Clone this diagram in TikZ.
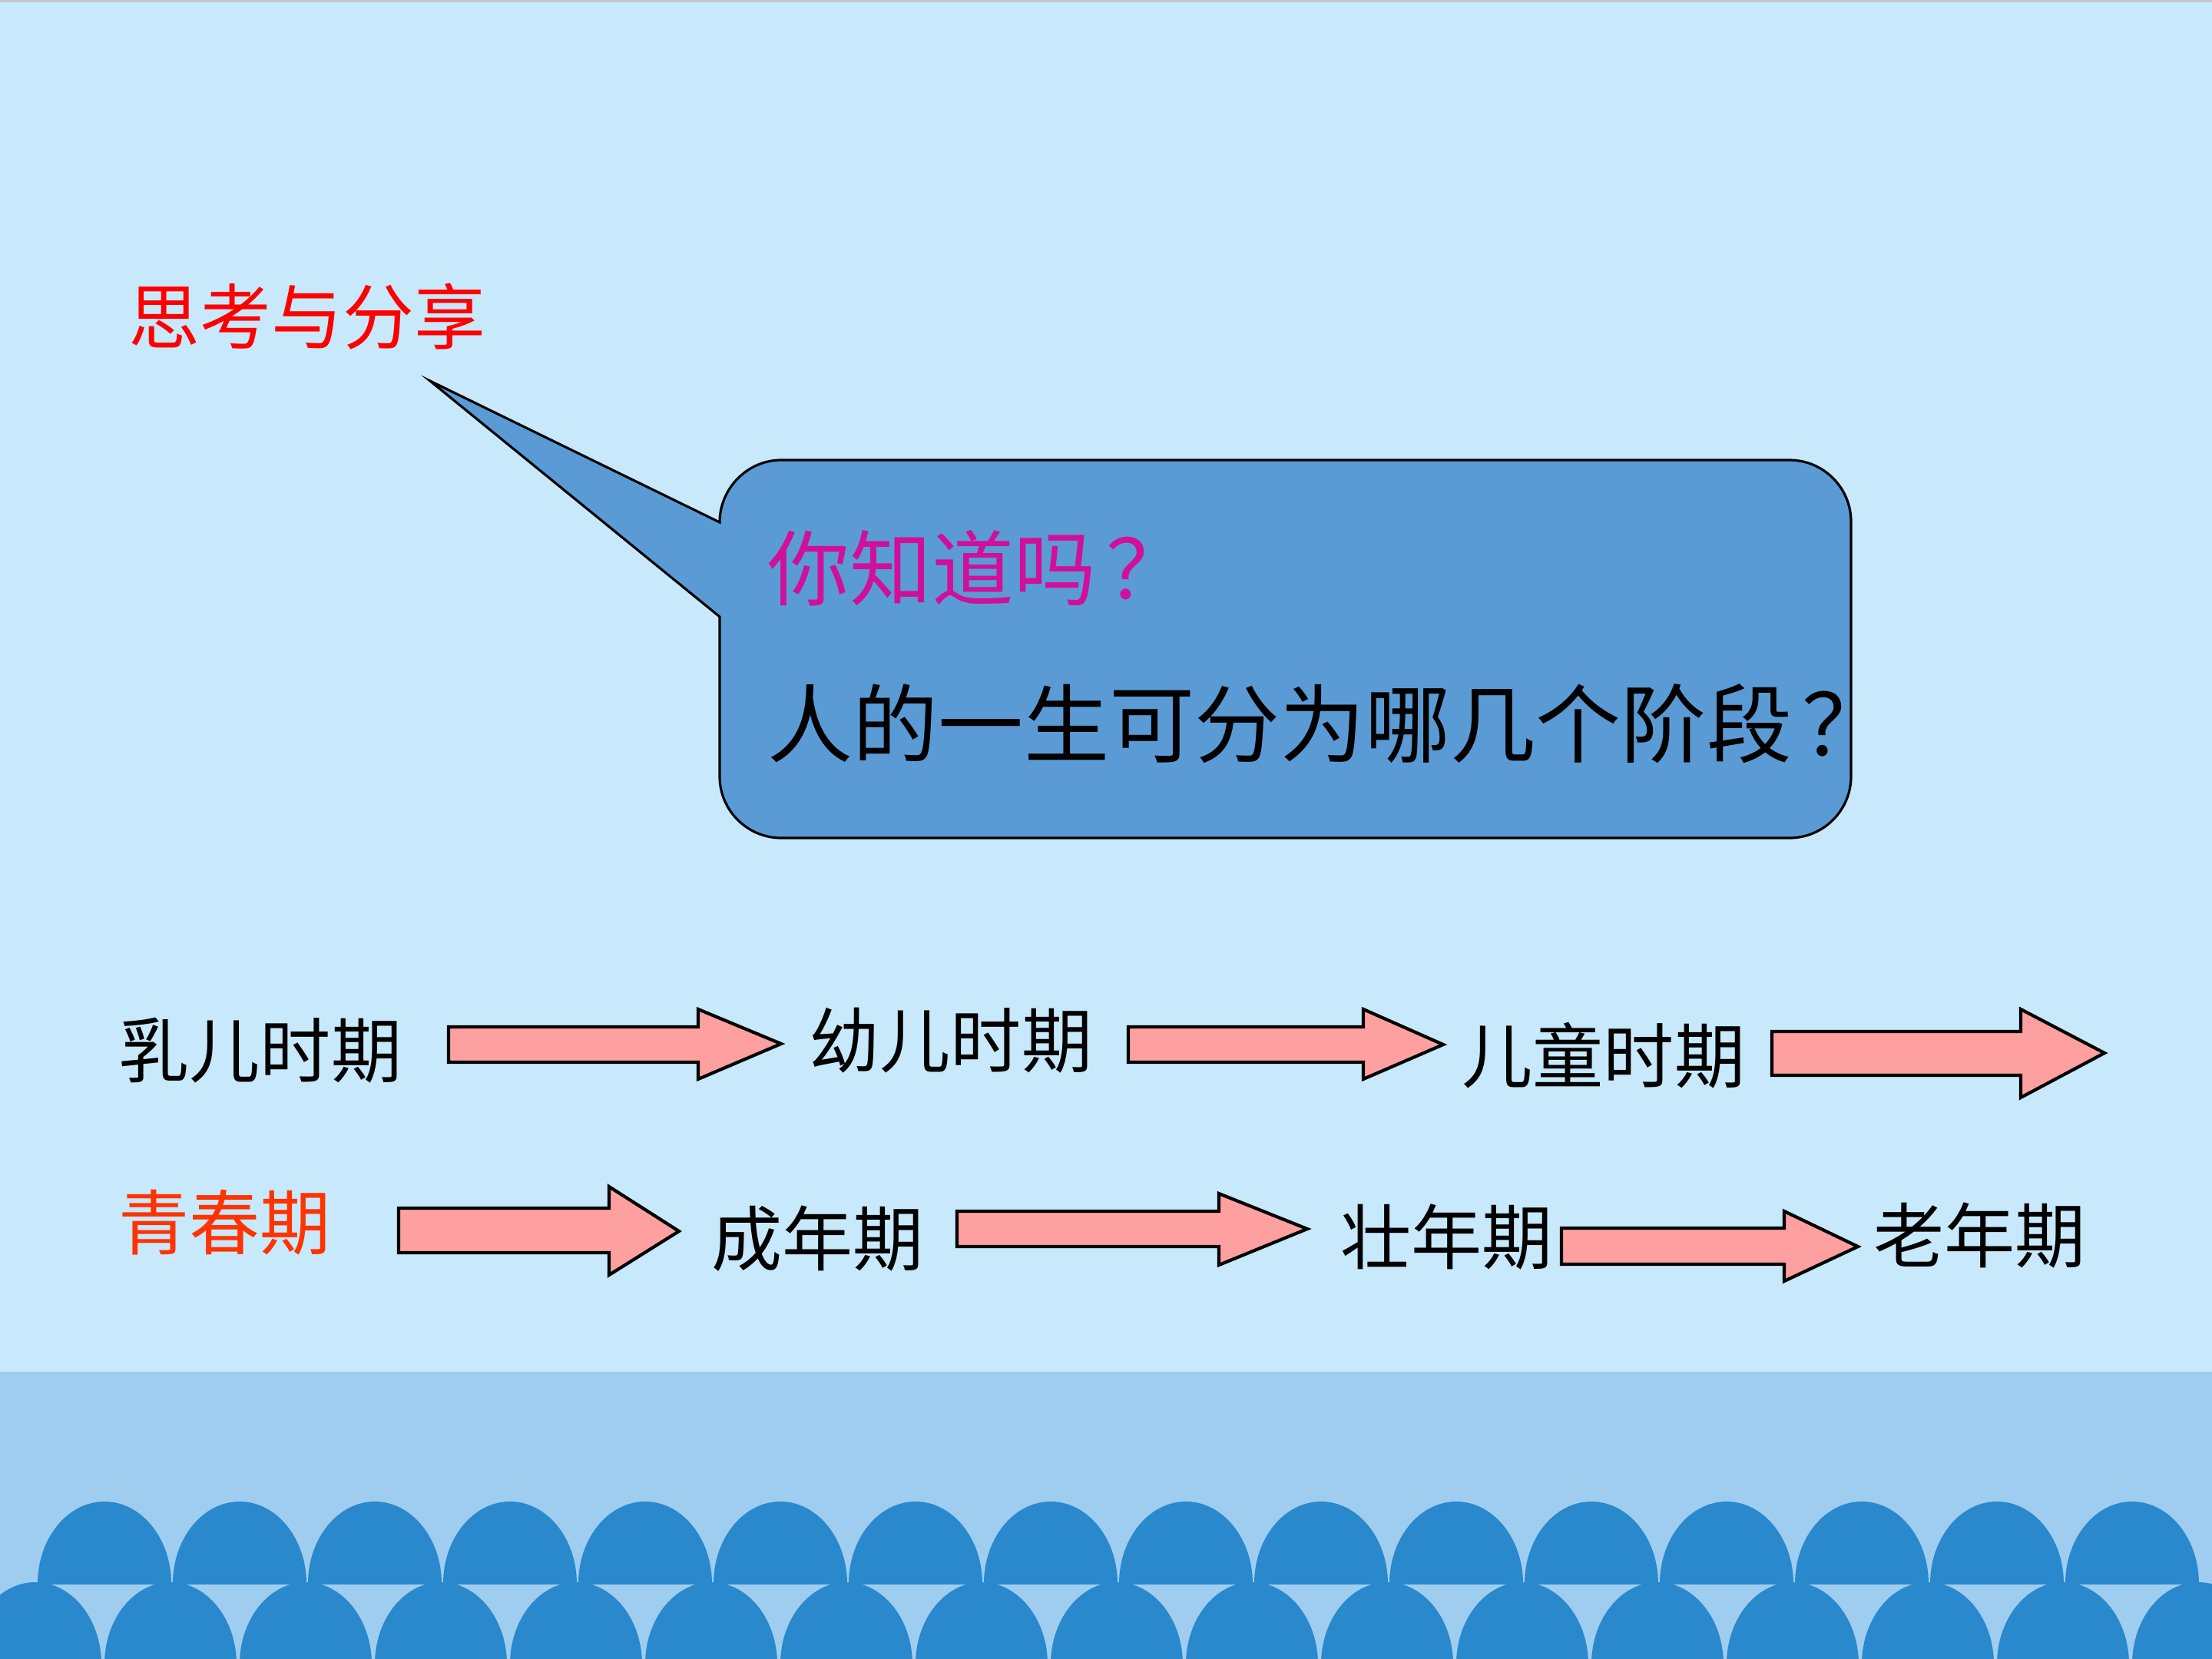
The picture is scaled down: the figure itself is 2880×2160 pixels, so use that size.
\documentclass[tikz,border=0pt]{standalone}
\usepackage{fontspec}
\setmainfont{Noto Sans CJK SC}
\definecolor{bgblue}{RGB}{199,233,251}
\definecolor{bandblue}{RGB}{159,205,240}
\definecolor{waveblue}{RGB}{42,136,204}
\definecolor{callblue}{RGB}{91,155,213}
\definecolor{arrowpink}{RGB}{255,160,160}
\definecolor{titlered}{RGB}{255,0,0}
\definecolor{qmagenta}{RGB}{208,16,154}
\definecolor{youthred}{RGB}{255,51,0}
\newcommand\myfs[1]{\fontsize{#1}{#1}\selectfont}
\tikzset{
  lbl/.style={inner sep=0pt, anchor=west, text=black, font=\myfs{26.2pt}},
  blockarrow/.style={draw=black, line width=1.2pt, fill=arrowpink, line join=miter},
  callout/.style={draw=black, line width=0.9pt, fill=callblue, line join=miter},
  wave/.style={fill=waveblue}
}
\begin{document}
\begin{tikzpicture}[x=0.01cm, y=-0.01cm]
\useasboundingbox (0,0) rectangle (2880,2160);
% backgrounds
\fill[bgblue] (0,0) rectangle (2880,2160);
\fill[black!22] (0,0) rectangle (2880,3);
\fill[bandblue] (0,1786) rectangle (2880,2160);
% waves
\begin{scope}
  \clip (0,0) rectangle (2880,2062);
  \foreach \k in {0,...,15} {
    \fill[wave] ({136+176*\k},2062) ellipse [x radius=87, y radius=107];
  }
\end{scope}
\begin{scope}
  \clip (0,0) rectangle (2880,2160);
  \foreach \k in {0,...,16} {
    \fill[wave] ({46+176*\k},2167) ellipse [x radius=86, y radius=107];
  }
\end{scope}
% title
\node[lbl, text=titlered, font=\myfs{26.4pt}] (title) at (167,412) {思考与分享};
% callout
\draw[callout] (560,496) -- (937,680)
  .. controls (937,636) and (973,599) .. (1017,599) -- (2330,599)
  .. controls (2374,599) and (2410,635) .. (2410,679) -- (2410,1011)
  .. controls (2410,1055) and (2374,1091) .. (2330,1091) -- (1017,1091)
  .. controls (973,1091) and (937,1055) .. (937,1011) -- (937,803) -- cycle;
\node[lbl, text=qmagenta, font=\myfs{30.4pt}] (q1) at (999,740) {你知道吗\hspace{0.12em}？};
\node[lbl, font=\myfs{31.6pt}] (q2) at (999,942) {人的一生可分为哪几个阶段\hspace{0.12em}？};
% row 1
\node[lbl] (r1a) at (154,1368) {乳儿时期};
\node[lbl] (r1b) at (1053,1355) {幼儿时期};
\node[lbl] (r1c) at (1903,1374) {儿童时期};
\draw[blockarrow] (584,1337) -- (909,1337) -- (909,1314) -- (1017,1359) -- (909,1405) -- (909,1383) -- (584,1383) -- cycle;
\draw[blockarrow] (1469,1337) -- (1775,1337) -- (1775,1314) -- (1879,1360) -- (1775,1405) -- (1775,1383) -- (1469,1383) -- cycle;
\draw[blockarrow] (2307,1343) -- (2631,1343) -- (2631,1314) -- (2740,1371) -- (2631,1429) -- (2631,1400) -- (2307,1400) -- cycle;
% row 2
\node[lbl, text=youthred] (r2a) at (154,1592) {青春期};
\node[lbl] (r2b) at (926,1613) {成年期};
\node[lbl] (r2c) at (1745,1610) {壮年期};
\node[lbl] (r2d) at (2439,1608) {老年期};
\draw[blockarrow] (519,1573) -- (793,1573) -- (793,1545) -- (884,1603) -- (793,1660) -- (793,1631) -- (519,1631) -- cycle;
\draw[blockarrow] (1246,1577) -- (1587,1577) -- (1587,1554) -- (1702,1600) -- (1587,1647) -- (1587,1623) -- (1246,1623) -- cycle;
\draw[blockarrow] (2033,1599) -- (2323,1599) -- (2323,1577) -- (2419,1623) -- (2323,1668) -- (2323,1646) -- (2033,1646) -- cycle;
\end{tikzpicture}
\end{document}
